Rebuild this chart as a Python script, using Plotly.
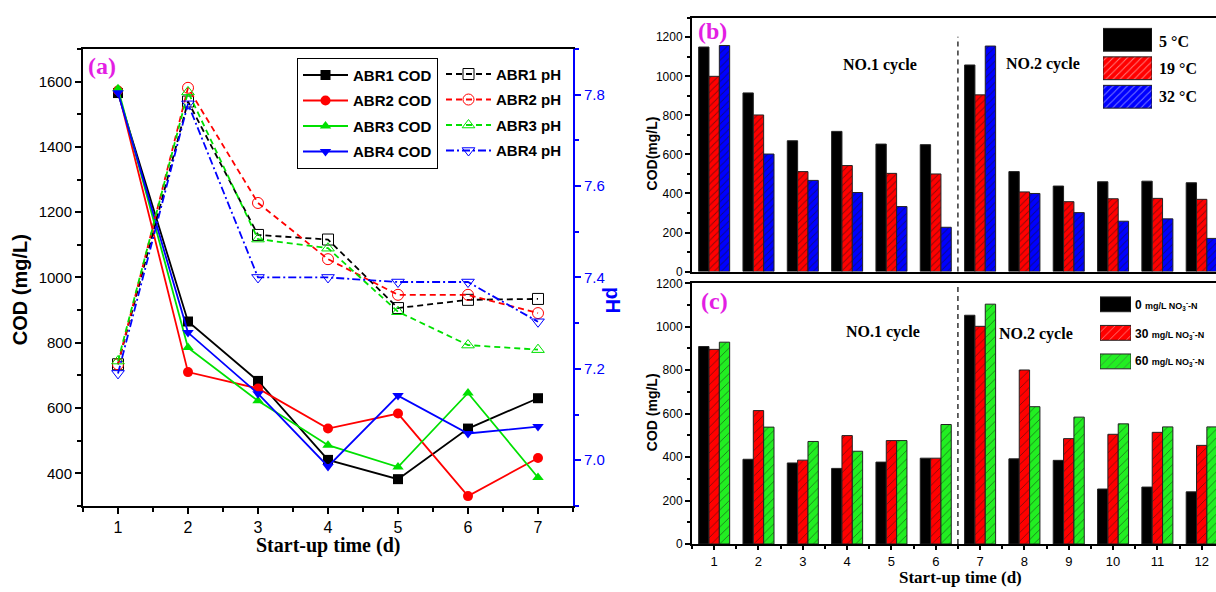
import plotly.graph_objects as go

W, H = 1216, 592
ARIAL = "Arial, Liberation Sans, sans-serif"
TIMES = "Times New Roman, Liberation Serif, serif"
MAG = "#E31EE3"

# ---------------- data ----------------
days = [1, 2, 3, 4, 5, 6, 7]
abr1_cod = [1565, 865, 683, 441, 382, 537, 630]
abr2_cod = [1573, 710, 660, 537, 583, 330, 447]
abr3_cod = [1578, 785, 622, 486, 419, 646, 387]
abr4_cod = [1566, 831, 644, 421, 638, 522, 543]

abr1_ph = [7.21, 7.785, 7.493, 7.483, 7.333, 7.351, 7.353]
abr2_ph = [7.21, 7.815, 7.563, 7.44, 7.362, 7.362, 7.322]
abr3_ph = [7.217, 7.806, 7.484, 7.464, 7.325, 7.252, 7.242]
abr4_ph = [7.19, 7.78, 7.40, 7.40, 7.39, 7.39, 7.303]

cycle_days = [1, 2, 3, 4, 5, 6, 7, 8, 9, 10, 11, 12]
temp_names = ["5 °C", "19 °C", "32 °C"]
b_5 = [1150, 915, 670, 718, 653, 650, 1058, 512, 438, 460, 463, 455]
b_19 = [1000, 802, 512, 543, 503, 500, 905, 408, 358, 373, 375, 370]
b_32 = [1158, 602, 467, 405, 333, 227, 1155, 400, 302, 258, 270, 170]

no3_names = ["0", "30", "60"]
c_0 = [909, 390, 373, 348, 377, 395, 1053, 392, 385, 253, 262, 240]
c_30 = [896, 614, 386, 499, 476, 395, 1002, 801, 485, 505, 514, 454]
c_60 = [929, 538, 472, 427, 476, 550, 1104, 632, 584, 553, 539, 539]


def px(x):
    return x / W


def py(y):
    return 1 - y / H


fig = go.Figure()

# ---------------- panel (a) ----------------
cod_series = [("ABR1 COD", abr1_cod, "black", "square"),
              ("ABR2 COD", abr2_cod, "#FF0000", "circle"),
              ("ABR3 COD", abr3_cod, "#00E000", "triangle-up"),
              ("ABR4 COD", abr4_cod, "#0000FF", "triangle-down")]
for i, (name, vals, col, sym) in enumerate(cod_series):
    fig.add_trace(go.Scatter(
        x=days, y=vals, name=name, mode="lines+markers",
        line=dict(color=col, width=1.8),
        marker=dict(symbol=sym, size=10, color=col),
        xaxis="x", yaxis="y", legend="legend", legendgroup="c%d" % i))

ph_series = [("ABR1 pH", abr1_ph, "black", "square-open", "6px,4px"),
             ("ABR2 pH", abr2_ph, "#FF0000", "circle-open", "6px,4px"),
             ("ABR3 pH", abr3_ph, "#00E000", "triangle-up-open", "6px,4px"),
             ("ABR4 pH", abr4_ph, "#0000FF", "triangle-down-open", "8px,3px,2px,3px")]
for i, (name, vals, col, sym, dash) in enumerate(ph_series):
    fig.add_trace(go.Scatter(
        x=days, y=vals, name=name, mode="lines+markers",
        line=dict(color=col, width=1.8, dash=dash),
        marker=dict(symbol=sym, size=11, color=col, line=dict(width=1, color=col)),
        xaxis="x", yaxis="y2", legend="legend2", legendgroup="p%d" % i))

# ---------------- panel (b) ----------------
b_fill = [("black", ""), ("#FF0000", "/"), ("#0000FF", "/")]
for name, vals, (col, shp) in zip(temp_names, [b_5, b_19, b_32], b_fill):
    fig.add_trace(go.Bar(
        x=cycle_days, y=vals, name=name, showlegend=False,
        marker=dict(color=col, line=dict(color="#222", width=1),
                    pattern=dict(shape=shp, fgcolor="#111", bgcolor=col,
                                 size=5, solidity=0.18)),
        xaxis="x3", yaxis="y3"))

# ---------------- panel (c) ----------------
c_fill = [("black", ""), ("#FF0000", "/"), ("#22EE22", "/")]
for name, vals, (col, shp) in zip(no3_names, [c_0, c_30, c_60], c_fill):
    fig.add_trace(go.Bar(
        x=cycle_days, y=vals, name=name, showlegend=False,
        marker=dict(color=col, line=dict(color="#222", width=1),
                    pattern=dict(shape=shp, fgcolor="#111", bgcolor=col,
                                 size=6, solidity=0.15)),
        xaxis="x4", yaxis="y4"))

# ---------------- legend keys for (b) and (c) ----------------
fig.add_trace(go.Bar(
    x=[1, 1, 1], y=[0, 1, 2], orientation="h", width=0.8, showlegend=False,
    marker=dict(color=[c for c, _ in b_fill], line=dict(color="#222", width=1),
                pattern=dict(shape=[s for _, s in b_fill], fgcolor="#111",
                             bgcolor=[c for c, _ in b_fill], size=5, solidity=0.18)),
    xaxis="x5", yaxis="y5", hoverinfo="skip"))
fig.add_trace(go.Bar(
    x=[1, 1, 1], y=[0, 1, 2], orientation="h", width=0.52, showlegend=False,
    marker=dict(color=[c for c, _ in c_fill], line=dict(color="#222", width=1),
                pattern=dict(shape=[s for _, s in c_fill], fgcolor="#111",
                             bgcolor=[c for c, _ in c_fill], size=6, solidity=0.15)),
    xaxis="x6", yaxis="y6", hoverinfo="skip"))

axis_common = dict(showgrid=False, zeroline=False, showline=True, linecolor="black",
                   linewidth=2, ticks="outside", tickcolor="black", ticklen=6, tickwidth=1.5)

xr = [0.5, 12 + (1216 - 1201.7) / 44.33]

fig.update_layout(
    width=W, height=H, margin=dict(l=0, r=0, t=0, b=0),
    paper_bgcolor="white", plot_bgcolor="rgba(0,0,0,0)",
    barmode="group", bargap=0.3, bargroupgap=0,
    font=dict(family=ARIAL, color="black"),
    xaxis=dict(axis_common, domain=[px(83), px(573)], range=[0.5, 7.5], anchor="y",
               dtick=1, mirror=True, tickfont=dict(size=16),
               minor=dict(dtick=0.5, ticks="outside", ticklen=4, tickcolor="black")),
    yaxis=dict(axis_common, domain=[py(511), py(43)], range=[300, 1700], anchor="x",
               dtick=200, tick0=0, tickfont=dict(size=15),
               minor=dict(dtick=100, ticks="outside", ticklen=4, tickcolor="black")),
    yaxis2=dict(axis_common, overlaying="y", side="right", anchor="x",
                range=[6.9, 7.9], dtick=0.2, tick0=7.0, tickformat=".1f",
                linecolor="#0000FF",
                tickcolor="#0000FF", tickfont=dict(size=15, color="#0000FF"),
                minor=dict(dtick=0.1, ticks="outside", ticklen=4, tickcolor="#0000FF")),
    xaxis3=dict(axis_common, domain=[px(692), 1], range=xr, anchor="y3",
                showticklabels=False, ticks="", mirror=True),
    yaxis3=dict(axis_common, domain=[py(271), py(11)], range=[0, 1300], anchor="x3",
                dtick=200, tickfont=dict(size=12), ticklen=5,
                minor=dict(dtick=100, ticks="outside", ticklen=3, tickcolor="black")),
    xaxis4=dict(axis_common, domain=[px(692), 1], range=xr, anchor="y4",
                dtick=1, mirror=True, tickfont=dict(size=13), ticklen=4,
                minor=dict(dtick=0.5, ticks="outside", ticklen=3, tickcolor="black")),
    yaxis4=dict(axis_common, domain=[py(550), py(283)], range=[0, 1200], anchor="x4",
                dtick=200, tickfont=dict(size=12), ticklen=5,
                minor=dict(dtick=100, ticks="outside", ticklen=3, tickcolor="black")),
    xaxis5=dict(domain=[px(1103), px(1152)], range=[0, 1], visible=False, anchor="y5"),
    yaxis5=dict(domain=[py(106.5), py(19)], range=[2.5, -0.5], visible=False, anchor="x5"),
    xaxis6=dict(domain=[px(1100), px(1131)], range=[0, 1], visible=False, anchor="y6"),
    yaxis6=dict(domain=[py(377.6), py(289.9)], range=[2.5, -0.5], visible=False, anchor="x6"),
    legend=dict(x=px(297), y=py(52), xanchor="left", yanchor="top",
                bordercolor="black", borderwidth=1, bgcolor="white",
                traceorder="grouped", tracegroupgap=3, itemwidth=45,
                font=dict(family=ARIAL, size=15, color="black", weight="bold")),
    legend2=dict(x=px(441), y=py(52), xanchor="left", yanchor="top",
                 borderwidth=0, bgcolor="rgba(0,0,0,0)",
                 traceorder="grouped", tracegroupgap=3, itemwidth=45,
                 font=dict(family=ARIAL, size=15, color="black", weight="bold")),
)

# dashed cycle separators
fig.add_shape(type="line", xref="x3", yref="y3 domain", x0=6.5, x1=6.5, y0=0, y1=0.925,
              line=dict(color="black", width=1.2, dash="5px,4px"))
fig.add_shape(type="line", xref="x4", yref="y4 domain", x0=6.5, x1=6.5, y0=0, y1=1,
              line=dict(color="black", width=1.2, dash="5px,4px"))


def ann(text, x, y, size, family, color="black", xanchor="center", angle=0):
    fig.add_annotation(text=text, x=px(x), y=py(y), xref="paper", yref="paper",
                       showarrow=False, xanchor=xanchor, yanchor="middle",
                       textangle=angle, font=dict(size=size, family=family, color=color))


ann("<b>(a)</b>", 102, 60, 24, TIMES, MAG)
ann("<b>(b)</b>", 712, 25, 24, TIMES, MAG)
ann("<b>(c)</b>", 715, 301, 24, TIMES, MAG)
ann("<b>COD (mg/L)</b>", 20, 290, 20, ARIAL, angle=-90)
ann("<b>pH</b>", 613, 300, 20, ARIAL, "#0000FF", angle=90)
ann("<b>Start-up time (d)</b>", 328, 552, 20, TIMES)
ann("<b>COD(mg/L)</b>", 652, 150, 14, ARIAL, angle=-90)
ann("<b>COD (mg/L)</b>", 652, 415, 14, ARIAL, angle=-90)
ann("<b>Start-up time (d)</b>", 960, 584, 17, TIMES)
ann("<b>NO.1 cycle</b>", 880, 59, 16, TIMES)
ann("<b>NO.2 cycle</b>", 1043, 58, 16, TIMES)
ann("<b>NO.1 cycle</b>", 883, 333, 16, TIMES)
ann("<b>NO.2 cycle</b>", 1036, 335, 16, TIMES)
for name, yy in zip(temp_names, [35, 63, 92]):
    ann("<b>%s</b>" % name, 1157, yy, 16, TIMES, xanchor="left")
for name, yy in zip(no3_names, [305, 335, 363]):
    ann("<b>%s <span style='font-size:9px'>mg/L NO<sub>3</sub><sup>-</sup>-N</span></b>" % name,
        1133, yy, 12, ARIAL, xanchor="left")

fig.write_html("out.html", config={"displayModeBar": False},
               post_script="document.body.style.margin='0';document.body.style.padding='0';"
                           "document.body.style.overflow='hidden';")
